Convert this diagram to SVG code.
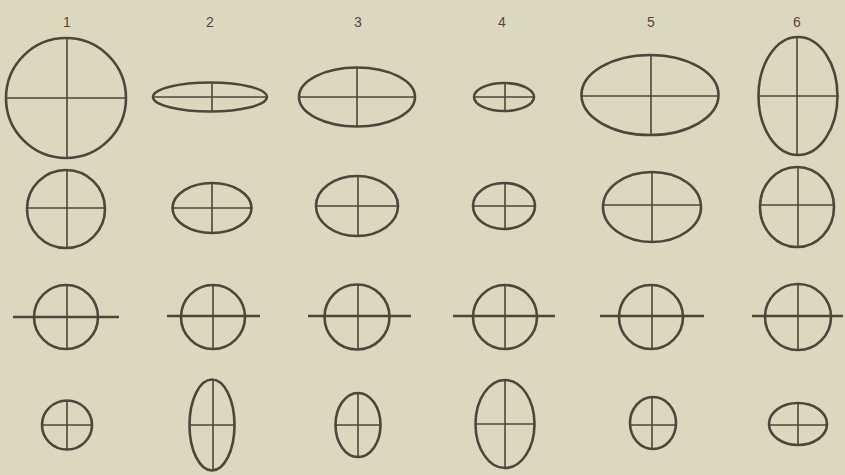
<svg xmlns="http://www.w3.org/2000/svg" width="845" height="475" viewBox="0 0 845 475">
<style>
.bg{fill:#dbd8bf}
.o{fill:none;stroke:#4d463b;stroke-width:2.6}
.c{stroke:#4d463b;stroke-width:1.6;fill:none}
.h{stroke:#4d463b;stroke-width:2.6;fill:none}
.lbl{font-family:"Liberation Sans",Arial,sans-serif;font-size:14px;fill:#4f4a40;text-anchor:middle}
</style>
<rect class="bg" x="0" y="0" width="845" height="475"/>
<g id="labels">
<text class="lbl" x="67" y="27">1</text>
<text class="lbl" x="210" y="27">2</text>
<text class="lbl" x="358" y="27">3</text>
<text class="lbl" x="502" y="27">4</text>
<text class="lbl" x="651" y="27">5</text>
<text class="lbl" x="797" y="27">6</text>
</g>
<g id="r1c1"><ellipse class="o" cx="66" cy="98" rx="60" ry="60"/><path class="c" d="M6 98H126M67 38V158"/></g>
<g id="r1c2"><ellipse class="o" cx="210" cy="97" rx="57" ry="14.5"/><path class="c" d="M153 97H267M212 83V112"/></g>
<g id="r1c3"><ellipse class="o" cx="357" cy="97" rx="58" ry="29.5"/><path class="c" d="M299 97H415M357 68V127"/></g>
<g id="r1c4"><ellipse class="o" cx="504" cy="97" rx="30" ry="14"/><path class="c" d="M474 97H534M505 83V111"/></g>
<g id="r1c5"><ellipse class="o" cx="650" cy="95" rx="68.5" ry="40"/><path class="c" d="M582 96H719M651 55V135"/></g>
<g id="r1c6"><ellipse class="o" cx="798" cy="96" rx="39.5" ry="59"/><path class="c" d="M759 96H838M797 37V155"/></g>

<g id="r2c1"><ellipse class="o" cx="66" cy="209" rx="39" ry="39"/><path class="c" d="M27 208H105M67 170V248"/></g>
<g id="r2c2"><ellipse class="o" cx="212" cy="208" rx="39.5" ry="25"/><path class="c" d="M173 208H252M212 183V233"/></g>
<g id="r2c3"><ellipse class="o" cx="357" cy="206" rx="41" ry="30"/><path class="c" d="M316 206H398M358 176V236"/></g>
<g id="r2c4"><ellipse class="o" cx="504" cy="206" rx="31" ry="23"/><path class="c" d="M473 206H535M505 183V229"/></g>
<g id="r2c5"><ellipse class="o" cx="652" cy="207" rx="49" ry="35"/><path class="c" d="M603 205H701M652 172V242"/></g>
<g id="r2c6"><ellipse class="o" cx="797" cy="207" rx="37" ry="40"/><path class="c" d="M760 205H834M798 167V247"/></g>

<g id="r3c1"><circle class="o" cx="66" cy="317" r="32"/><path class="h" d="M13 317H119"/><path class="c" d="M67 285V349"/></g>
<g id="r3c2"><circle class="o" cx="213" cy="317" r="32"/><path class="h" d="M167 316H260"/><path class="c" d="M213 285V349"/></g>
<g id="r3c3"><circle class="o" cx="357" cy="317" r="32.5"/><path class="h" d="M308 316H411"/><path class="c" d="M358 285V349"/></g>
<g id="r3c4"><circle class="o" cx="505" cy="317" r="32"/><path class="h" d="M453 316H555"/><path class="c" d="M505 285V349"/></g>
<g id="r3c5"><circle class="o" cx="651" cy="317" r="32"/><path class="h" d="M600 316H704"/><path class="c" d="M652 285V350"/></g>
<g id="r3c6"><circle class="o" cx="798" cy="317" r="33"/><path class="h" d="M752 316H843"/><path class="c" d="M798 284V350"/></g>

<g id="r4c1"><ellipse class="o" cx="67" cy="425" rx="25" ry="24.5"/><path class="c" d="M42 425H92M67 401V450"/></g>
<g id="r4c2"><ellipse class="o" cx="212" cy="425" rx="22.5" ry="45.5"/><path class="c" d="M190 425H235M213 380V471"/></g>
<g id="r4c3"><ellipse class="o" cx="358" cy="425" rx="22.5" ry="32"/><path class="c" d="M336 425H381M358 393V457"/></g>
<g id="r4c4"><ellipse class="o" cx="505" cy="424" rx="29.5" ry="44"/><path class="c" d="M475 424H534M505 380V468"/></g>
<g id="r4c5"><ellipse class="o" cx="653" cy="423" rx="23" ry="26"/><path class="c" d="M630 425H676M652 397V449"/></g>
<g id="r4c6"><ellipse class="o" cx="798" cy="424" rx="29" ry="21"/><path class="c" d="M769 425H827M798 403V445"/></g>
</svg>
